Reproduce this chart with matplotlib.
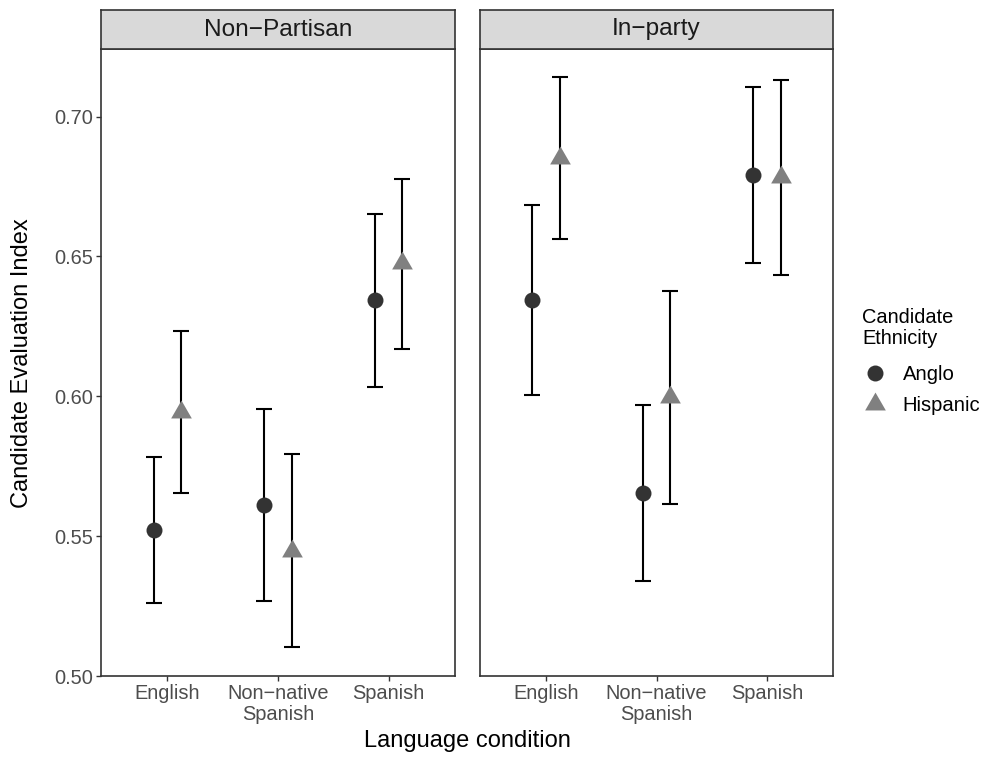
import matplotlib
matplotlib.use("Agg")
import matplotlib.pyplot as plt
from matplotlib.path import Path
from matplotlib.lines import Line2D
import numpy as np

plt.rcParams['font.family'] = ['Liberation Sans', 'DejaVu Sans']

# Facets, language conditions and candidate ethnicity groups
panels = ["Non\u2212Partisan", "In\u2212party"]
languages = ["English", "Non\u2212native\nSpanish", "Spanish"]
groups = ["Anglo", "Hispanic"]

# Mean candidate evaluation index with lower / upper CI bounds
np_anglo_mean = [0.5522, 0.5611, 0.6345]
np_anglo_lo = [0.5261, 0.5268, 0.6035]
np_anglo_hi = [0.5782, 0.5953, 0.6652]

np_hisp_mean = [0.5943, 0.5447, 0.6477]
np_hisp_lo = [0.5653, 0.5102, 0.6170]
np_hisp_hi = [0.6235, 0.5792, 0.6778]

ip_anglo_mean = [0.6343, 0.5655, 0.6790]
ip_anglo_lo = [0.6006, 0.5340, 0.6477]
ip_anglo_hi = [0.6685, 0.5970, 0.7107]

ip_hisp_mean = [0.6853, 0.5996, 0.6783]
ip_hisp_lo = [0.6563, 0.5615, 0.6435]
ip_hisp_hi = [0.7140, 0.6376, 0.7132]

y_ticks = [0.50, 0.55, 0.60, 0.65, 0.70]

data = {
    panels[0]: {
        "Anglo": (np_anglo_mean, np_anglo_lo, np_anglo_hi),
        "Hispanic": (np_hisp_mean, np_hisp_lo, np_hisp_hi),
    },
    panels[1]: {
        "Anglo": (ip_anglo_mean, ip_anglo_lo, ip_anglo_hi),
        "Hispanic": (ip_hisp_mean, ip_hisp_lo, ip_hisp_hi),
    },
}

# equilateral triangle centred on its centroid
tri = Path([(-0.5, -0.2887), (0.5, -0.2887), (0.0, 0.5774), (-0.5, -0.2887)],
           [Path.MOVETO, Path.LINETO, Path.LINETO, Path.CLOSEPOLY])

style = {
    "Anglo": dict(marker="o", color="#333333", ms=11.5, offset=-0.125),
    "Hispanic": dict(marker=tri, color="#808080", ms=17.2, offset=0.125),
}

all_lo = np_anglo_lo + np_hisp_lo + ip_anglo_lo + ip_hisp_lo
all_hi = np_anglo_hi + np_hisp_hi + ip_anglo_hi + ip_hisp_hi
ymin, ymax = min(all_lo), max(all_hi)
pad = (ymax - ymin) * 0.05
ylim = (ymin - pad, ymax + pad)

W, H = 985, 766
fig = plt.figure(figsize=(W / 100, H / 100), dpi=100)

panel_px = [(101, 455), (480, 833)]
top_px, bottom_px, strip_top_px = 49, 676, 10

border_col = "#333333"
tick_col = "#4D4D4D"

for i, (pname, (x0, x1)) in enumerate(zip(panels, panel_px)):
    ax = fig.add_axes([x0 / W, 1 - bottom_px / H, (x1 - x0) / W, (bottom_px - top_px) / H])
    xs = np.arange(1, len(languages) + 1)
    for g in groups:
        m, lo, hi = data[pname][g]
        st = style[g]
        xpos = xs + st["offset"]
        m = np.array(m)
        ax.errorbar(xpos, m, yerr=[m - np.array(lo), np.array(hi) - m], fmt="none",
                    ecolor="black", elinewidth=1.5, capsize=5.5, capthick=1.5, zorder=2)
        ax.plot(xpos, m, linestyle="none", marker=st["marker"], color=st["color"],
                markersize=st["ms"], markeredgewidth=0, zorder=3)
    ax.set_xlim(0.4, 3.6)
    ax.set_ylim(*ylim)
    ax.set_xticks(xs)
    ax.set_xticklabels(languages, fontsize=14.4, color=tick_col, linespacing=1.1)
    ax.tick_params(axis="x", length=3.5, width=1.0, color=border_col, pad=2.5)
    if i == 0:
        ax.set_yticks(y_ticks)
        ax.set_yticklabels([f"{v:.2f}" for v in y_ticks], fontsize=14.4, color=tick_col)
        ax.tick_params(axis="y", length=3.5, width=1.0, color=border_col, pad=2.5)
    else:
        ax.set_yticks([])
    for sp in ax.spines.values():
        sp.set_color(border_col)
        sp.set_linewidth(1.2)

    # facet strip
    sax = fig.add_axes([x0 / W, 1 - top_px / H, (x1 - x0) / W, (top_px - strip_top_px) / H])
    sax.set_facecolor("#D9D9D9")
    sax.set_xticks([])
    sax.set_yticks([])
    for sp in sax.spines.values():
        sp.set_color(border_col)
        sp.set_linewidth(1.2)
    sax.text(0.5, 0.5, pname, ha="center", va="center", fontsize=17.6, color="#1A1A1A",
             transform=sax.transAxes)

fig.text(22 / W, 1 - 363 / H, "Candidate Evaluation Index", rotation=90, ha="center",
         va="center", fontsize=17)
fig.text(467 / W, 1 - 741 / H, "Language condition", ha="center", va="center", fontsize=17)

# legend: title as its own text block, keys below it
fig.text(862 / W, 1 - 328 / H, "Candidate\nEthnicity", ha="left", va="center",
         fontsize=14.4, linespacing=1.1)
handles = [
    Line2D([], [], linestyle="none", marker="o", color="#333333", markersize=11.5,
           markeredgewidth=0),
    Line2D([], [], linestyle="none", marker=tri, color="#808080", markersize=17.2,
           markeredgewidth=0),
]
fig.legend(handles, groups, loc="center left", bbox_to_anchor=(857 / W, 1 - 390 / H),
           frameon=False, fontsize=14.6, handlelength=1.0, handletextpad=0.85,
           labelspacing=0.6, borderaxespad=0)

fig.savefig("out.png", dpi=100)
